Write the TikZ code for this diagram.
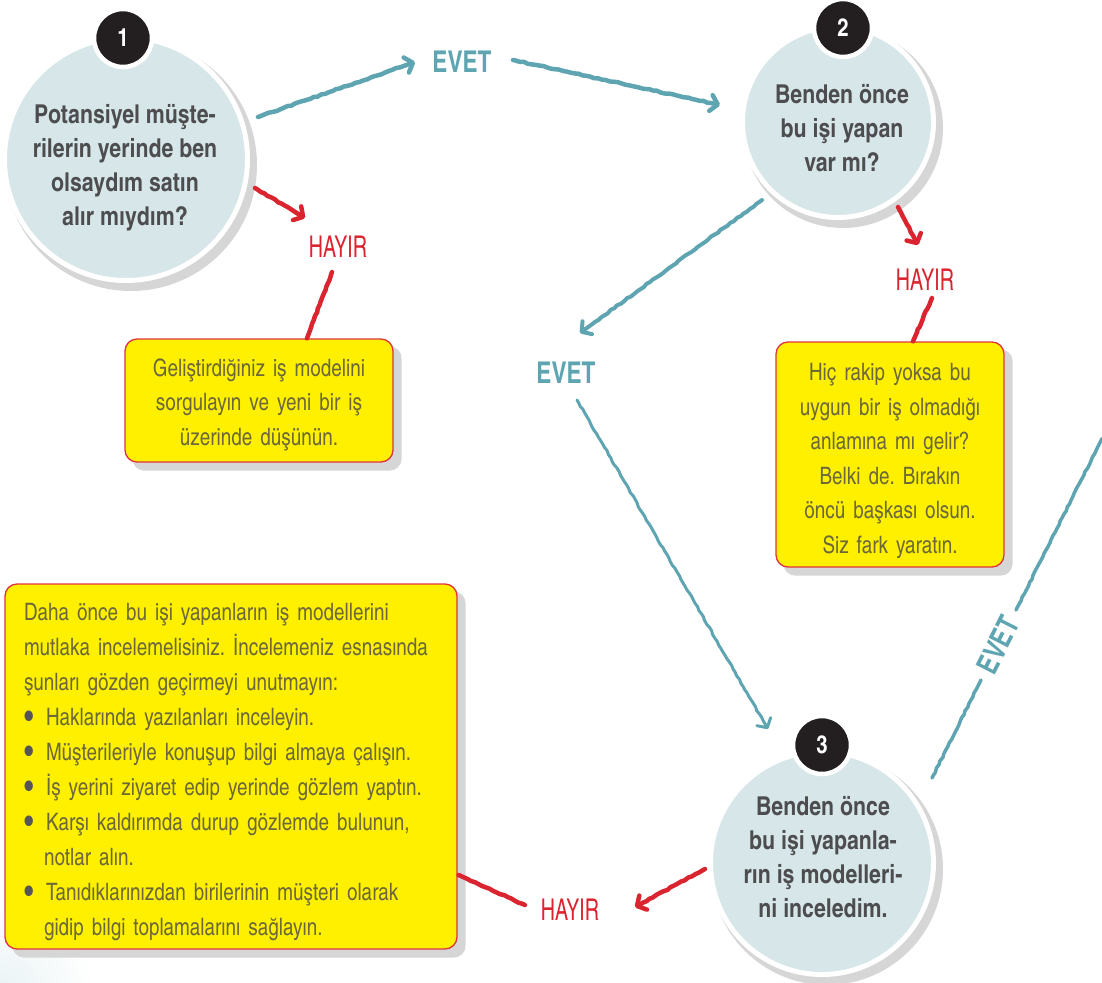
\documentclass[tikz,border=0pt]{standalone}
\usepackage{fontspec}
\usepackage{graphicx}
\setmainfont{TeX Gyre Heros}
\newfontfamily\cn{texgyreheroscn}[Extension=.otf, UprightFont=*-regular, BoldFont=*-bold]
\newfontfamily\cnbox{texgyreheroscn}[Extension=.otf, UprightFont=*-regular, FakeStretch=0.96]
\usetikzlibrary{calc,arrows.meta,decorations.pathmorphing}
\pgfdeclarelayer{background}
\pgfsetlayers{background,main}
\definecolor{bubblefill}{RGB}{214,230,233}
\definecolor{bubbletext}{RGB}{77,77,79}
\definecolor{badgeblack}{RGB}{35,31,32}
\definecolor{tealc}{RGB}{94,165,177}
\definecolor{redc}{RGB}{218,37,48}
\definecolor{boxyellow}{RGB}{255,240,0}
\definecolor{boxred}{RGB}{222,52,62}
\definecolor{boxtext}{RGB}{108,104,58}
\definecolor{shadowgray}{RGB}{214,214,214}
\definecolor{bulletgray}{RGB}{85,85,85}
\newcommand\topstrut[1]{\rule{0pt}{#1}}
\newcommand\bulitem{\makebox[22pt][l]{\raisebox{-3pt}{\textcolor{bulletgray}{\fontsize{34}{34}\selectfont\textbullet}}}}
\begin{document}
\frenchspacing
\begin{tikzpicture}[x=1pt,y=-1pt,
  bubble/.style={circle, fill=bubblefill, draw=white, line width=5pt, inner sep=0pt},
  badge/.style={circle, fill=badgeblack, draw=white, line width=4.5pt, minimum size=58pt, inner sep=0pt, text=white, font=\cn\bfseries\fontsize{25}{25}\selectfont},
  qtext/.style={align=center, text=bubbletext, font=\cn\bfseries\fontsize{26}{34}\selectfont, inner sep=0pt},
  notebox/.style={rectangle, rounded corners=12pt, fill=boxyellow, draw=boxred, line width=1.3pt, text=boxtext, font=\cnbox\fontsize{24}{34.5}\selectfont, inner xsep=9pt, inner ysep=0pt},
  evetlbl/.style={text=tealc, font=\cn\bfseries\fontsize{30}{30}\selectfont, inner sep=0pt},
  hayirlbl/.style={text=redc, font=\cn\fontsize{30}{30}\selectfont, inner sep=0pt},
  chalk/.style={decorate, decoration={random steps, segment length=4pt, amplitude=0.6pt, pre length=3pt, post length=10pt}, line cap=round, line join=round},
  tealarrow/.style={chalk, draw=tealc, line width=#1, -{Straight Barb[length=7pt,width=16pt,round]}},
  tealarrow/.default=4pt,
  tealline/.style={chalk, draw=tealc, line width=3.5pt},
  redarrow/.style={chalk, draw=redc, line width=4.5pt, -{Straight Barb[length=7pt,width=16pt,round]}},
  redline/.style={chalk, draw=redc, line width=4.5pt}
]
\pgfmathsetseed{12}
\useasboundingbox (0,0) rectangle (1102,982);

% question bubbles
\node[bubble, minimum size=243pt] (c1) at (126,159) {};
\node[bubble, minimum size=191pt] (c2) at (838,122) {};
\node[bubble, minimum size=223pt] (c3) at (822,863) {};
\node[qtext] (t1) at (125,168) {Potansiyel müşte-\\rilerin yerinde ben\\olsaydım satın\\alır mıydım?};
\node[qtext] (t2) at (842,128.5) {Benden önce\\bu işi yapan\\var mı?};
\node[qtext] (t3) at (823,857.5) {Benden önce\\bu işi yapanla-\\rın iş modelleri-\\ni inceledim.};
\node[badge] (b1) at (123,38) {1};
\node[badge] (b2) at (843,28) {2};
\node[badge] (b3) at (822,745) {3};

% note boxes
\node[notebox, align=center, text width=250pt, minimum width=268pt, minimum height=123pt] (boxA) at (259,400.5)
  {\topstrut{26pt}Geliştirdiğiniz iş modelini\\sorgulayın ve yeni bir iş\\üzerinde düşünün.};
\node[notebox, align=center, text width=210pt, minimum width=228pt, minimum height=225pt] (boxB) at (890,454.5)
  {\topstrut{30pt}Hiç rakip yoksa bu\\uygun bir iş olmadığı\\anlamına mı gelir?\\Belki de. Bırakın\\öncü başkası olsun.\\Siz fark yaratın.};
\node[notebox, align=left, text width=414pt, inner xsep=19pt, minimum width=452pt, minimum height=365pt, font=\cnbox\fontsize{24}{35}\selectfont] (boxC) at (231,766.5)
  {\topstrut{29pt}Daha önce bu işi yapanların iş modellerini\\
   \mbox{mutlaka incelemelisiniz. İncelemeniz esnasında}\\
   şunları gözden geçirmeyi unutmayın:\\
   \bulitem Haklarında yazılanları inceleyin.\\
   \bulitem Müşterileriyle konuşup bilgi almaya çalışın.\\
   \bulitem İş yerini ziyaret edip yerinde gözlem yaptın.\\
   \bulitem Karşı kaldırımda durup gözlemde bulunun,\\
   \hspace*{20pt}notlar alın.\\
   \bulitem Tanıdıklarınızdan birilerinin müşteri olarak\\
   \hspace*{20pt}gidip bilgi toplamalarını sağlayın.};

% labels
\node[evetlbl] (evet1) at (462,62) {\scalebox{0.92}[1]{EVET}};
\node[evetlbl] (evet2) at (566,373) {\scalebox{0.92}[1]{EVET}};
\node[evetlbl, rotate=63] (evet3) at (998,645) {\scalebox{0.92}[1]{EVET}};
\node[hayirlbl] (hayir1) at (338,247) {\scalebox{0.8}[1]{HAYIR}};
\node[hayirlbl] (hayir2) at (925,280) {\scalebox{0.8}[1]{HAYIR}};
\node[hayirlbl] (hayir3) at (570,910) {\scalebox{0.8}[1]{HAYIR}};
\coordinate (rim) at (1102,438.5);

% background: shadows and corner tint
\begin{pgfonlayer}{background}
  \shade[inner color=tealc!14, outer color=white] (0,995) circle (95pt);
  \fill[shadowgray] ($(c1)+(5,6)$) circle (126pt);
  \fill[shadowgray] ($(c2)+(5,6)$) circle (100pt);
  \fill[shadowgray] ($(c3)+(5,6)$) circle (116pt);
  \fill[shadowgray, rounded corners=12pt] ($(boxA.north west)+(8,8)$) rectangle ($(boxA.south east)+(8,8)$);
  \fill[shadowgray, rounded corners=12pt] ($(boxB.north west)+(8,8)$) rectangle ($(boxB.south east)+(8,8)$);
  \fill[shadowgray, rounded corners=12pt] ($(boxC.north west)+(8,8)$) rectangle ($(boxC.south east)+(8,8)$);
\end{pgfonlayer}

% EVET connectors
\draw[tealarrow=4.5pt] ($(c1)+(132,-42)$) -- ($(evet1)+(-47,0)$);
\draw[tealarrow=4.5pt] ($(evet1)+(51,-2)$) -- ($(c2)+(-118,-17)$);
\draw[tealarrow=4pt] ($(c2)+(-76,78)$) -- ($(evet2)+(14,-40)$);
\draw[tealarrow=3pt] ($(evet2)+(11,27)$) -- ($(c3)+(-54,-134)$);
\draw[tealline] ($(c3)+(110,-85)$) -- ($(evet3)+(-17,35)$);
\draw[tealline] ($(evet3)+(18,-35)$) -- (rim);

% HAYIR connectors
\draw[redarrow] ($(c1)+(129,29)$) -- ($(hayir1)+(-33,-29)$);
\draw[redline] ($(hayir1)+(-6,25)$) -- ($(boxA.north)+(48,0)$);
\draw[redarrow] ($(c2)+(60,85)$) -- ($(hayir2)+(-7,-35)$);
\draw[redline] ($(hayir2)+(7,18)$) -- ($(boxB.north)+(23,0)$);
\draw[redarrow] ($(c3)+(-117,6)$) -- ($(hayir3)+(65,-3)$);
\draw[redline] ($(hayir3)+(-45,-5)$) -- ($(boxC.east)+(1,108.5)$);
\end{tikzpicture}
\end{document}
